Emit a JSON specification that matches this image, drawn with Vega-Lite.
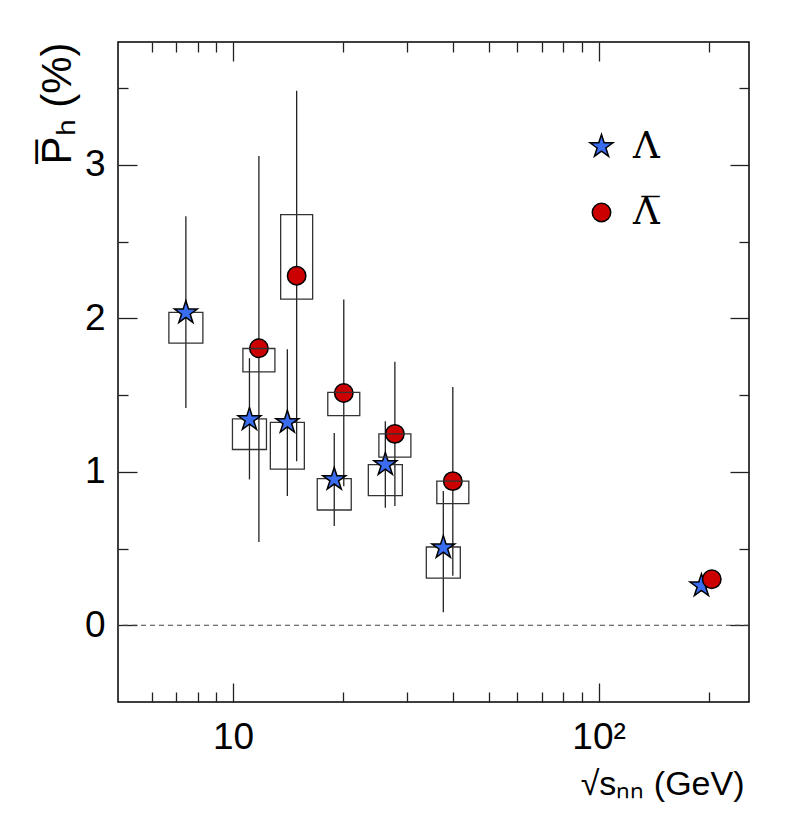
{
  "$schema": "https://vega.github.io/schema/vega-lite/v6.json",
  "width": 631,
  "height": 660,
  "autosize": {"type": "none"},
  "padding": {"left": 118, "top": 42, "right": 39, "bottom": 125},
  "background": "white",
  "data": {
    "values": [
      {"particle": "Λ", "energy": 7.43, "p": 2.036, "stat_lo": 1.416, "stat_hi": 2.664, "sys_lo": 1.838, "sys_hi": 2.039},
      {"particle": "Λ", "energy": 11.09, "p": 1.34, "stat_lo": 0.95, "stat_hi": 1.74, "sys_lo": 1.145, "sys_hi": 1.344},
      {"particle": "Λ", "energy": 14.08, "p": 1.322, "stat_lo": 0.842, "stat_hi": 1.799, "sys_lo": 1.017, "sys_hi": 1.322},
      {"particle": "Λ", "energy": 18.92, "p": 0.95, "stat_lo": 0.647, "stat_hi": 1.253, "sys_lo": 0.751, "sys_hi": 0.955},
      {"particle": "Λ", "energy": 26.1, "p": 1.047, "stat_lo": 0.766, "stat_hi": 1.329, "sys_lo": 0.845, "sys_hi": 1.047},
      {"particle": "Λ", "energy": 37.61, "p": 0.506, "stat_lo": 0.084, "stat_hi": 0.874, "sys_lo": 0.307, "sys_hi": 0.51},
      {"particle": "Λ", "energy": 191.2, "p": 0.257, "stat_lo": 0.22, "stat_hi": 0.3, "sys_lo": null, "sys_hi": null},
      {"particle": "Λ̅", "energy": 11.77, "p": 1.805, "stat_lo": 0.543, "stat_hi": 3.058, "sys_lo": 1.651, "sys_hi": 1.803},
      {"particle": "Λ̅", "energy": 14.93, "p": 2.277, "stat_lo": 1.069, "stat_hi": 3.482, "sys_lo": 2.125, "sys_hi": 2.675},
      {"particle": "Λ̅", "energy": 20.09, "p": 1.513, "stat_lo": 0.906, "stat_hi": 2.123, "sys_lo": 1.366, "sys_hi": 1.517},
      {"particle": "Λ̅", "energy": 27.72, "p": 1.247, "stat_lo": 0.777, "stat_hi": 1.716, "sys_lo": 1.095, "sys_hi": 1.247},
      {"particle": "Λ̅", "energy": 39.93, "p": 0.939, "stat_lo": 0.322, "stat_hi": 1.552, "sys_lo": 0.792, "sys_hi": 0.939},
      {"particle": "Λ̅", "energy": 204.1, "p": 0.3, "stat_lo": 0.26, "stat_hi": 0.34, "sys_lo": null, "sys_hi": null}
    ]
  },
  "resolve": {"axis": {"x": "independent", "y": "independent"}},
  "layer": [
    {
      "data": {"values": [{"ref": 0}]},
      "mark": {"type": "rule", "color": "#444", "strokeWidth": 1, "strokeDash": [5, 4]},
      "encoding": {
        "y": {"field": "ref", "type": "quantitative", "scale": {"domain": [-0.5, 3.8]}, "axis": null}
      }
    },
    {
      "mark": {"type": "rule", "color": "#222", "strokeWidth": 1.3},
      "encoding": {
        "x": {
          "field": "energy",
          "type": "quantitative",
          "scale": {"type": "log", "domain": [5, 250]},
          "axis": {
            "orient": "bottom",
            "values": [6, 7, 8, 9, 10, 20, 30, 40, 50, 60, 70, 80, 90, 100, 200],
            "labelExpr": "datum.value == 10 ? '10' : datum.value == 100 ? '10²' : ''",
            "tickSize": {"condition": {"test": "datum.value == 10 || datum.value == 100", "value": -19}, "value": -10},
            "labelPadding": 36,
            "title": "√sₙₙ (GeV)",
            "titleAnchor": "end",
            "titleAlign": "right",
            "titleX": 626,
            "titleY": 92,
            "titleBaseline": "alphabetic"
          }
        },
        "y": {
          "field": "stat_lo",
          "type": "quantitative",
          "scale": {"domain": [-0.5, 3.8]},
          "axis": {
            "orient": "left",
            "values": [0, 0.5, 1, 1.5, 2, 2.5, 3, 3.5],
            "labelExpr": "datum.value % 1 === 0 ? format(datum.value, 'd') : ''",
            "tickSize": {"condition": {"test": "datum.value % 1 === 0", "value": -19}, "value": -10},
            "labelPadding": 32,
            "title": "P̅ₕ (%)",
            "titleFontSize": 42,
            "titleAngle": -90,
            "titleAlign": "right",
            "titleAnchor": "end",
            "titleX": -48,
            "titleY": 0,
            "titleBaseline": "alphabetic"
          }
        },
        "y2": {"field": "stat_hi"}
      }
    },
    {
      "transform": [{"filter": "datum.particle === 'Λ'"}],
      "mark": {"type": "bar", "size": 34, "fill": "white", "fillOpacity": 0, "stroke": "#333", "strokeWidth": 1.3},
      "encoding": {
        "x": {
          "field": "energy",
          "type": "quantitative",
          "scale": {"type": "log", "domain": [5, 250]},
          "axis": {
            "orient": "top",
            "values": [6, 7, 8, 9, 10, 20, 30, 40, 50, 60, 70, 80, 90, 100, 200],
            "labels": false,
            "tickSize": {"condition": {"test": "datum.value == 10 || datum.value == 100", "value": -19}, "value": -10},
            "title": null
          }
        },
        "y": {
          "field": "sys_lo",
          "type": "quantitative",
          "scale": {"domain": [-0.5, 3.8]},
          "axis": {
            "orient": "right",
            "values": [0, 0.5, 1, 1.5, 2, 2.5, 3, 3.5],
            "labels": false,
            "tickSize": {"condition": {"test": "datum.value % 1 === 0", "value": -19}, "value": -10},
            "title": null
          }
        },
        "y2": {"field": "sys_hi"}
      }
    },
    {
      "mark": {"type": "point", "filled": true, "stroke": "black", "strokeWidth": 1.5, "opacity": 1},
      "encoding": {
        "x": {"field": "energy", "type": "quantitative", "scale": {"type": "log", "domain": [5, 250]}, "axis": null},
        "y": {"field": "p", "type": "quantitative", "scale": {"domain": [-0.5, 3.8]}, "axis": null},
        "shape": {
          "field": "particle",
          "type": "nominal",
          "scale": {
            "domain": ["Λ", "Λ̅"],
            "range": ["M0,-1L0.2245,-0.309L0.9511,-0.309L0.3633,0.118L0.5878,0.809L0,0.382L-0.5878,0.809L-0.3633,0.118L-0.9511,-0.309L-0.2245,-0.309Z", "circle"]
          },
          "legend": {
            "orient": "none",
            "legendX": 465,
            "legendY": 86,
            "title": null,
            "labelFont": "DejaVu Serif",
            "labelFontSize": 37,
            "labelOffset": 13,
            "rowPadding": 28,
            "symbolStrokeColor": "black",
            "symbolStrokeWidth": 1.5
          }
        },
        "fill": {
          "field": "particle",
          "type": "nominal",
          "scale": {"domain": ["Λ", "Λ̅"], "range": ["#3b6df0", "#cc0000"]}
        },
        "size": {
          "field": "particle",
          "type": "nominal",
          "scale": {"domain": ["Λ", "Λ̅"], "range": [576, 340]}
        }
      }
    },
    {
      "transform": [{"filter": "datum.particle !== 'Λ'"}],
      "mark": {"type": "bar", "size": 32, "fill": "white", "fillOpacity": 0, "stroke": "#333", "strokeWidth": 1.3},
      "encoding": {
        "x": {"field": "energy", "type": "quantitative", "scale": {"type": "log", "domain": [5, 250]}, "axis": null},
        "y": {"field": "sys_lo", "type": "quantitative", "scale": {"domain": [-0.5, 3.8]}, "axis": null},
        "y2": {"field": "sys_hi"}
      }
    }
  ],
  "config": {
    "view": {"stroke": "black", "strokeWidth": 1.5},
    "font": "Liberation Sans",
    "axis": {
      "grid": false,
      "domain": false,
      "tickColor": "#222",
      "tickWidth": 1.3,
      "labelFont": "Liberation Sans",
      "labelFontSize": 37,
      "labelColor": "black",
      "labelFlush": false,
      "labelOverlap": false,
      "labelBound": false,
      "titleFont": "Liberation Sans",
      "titleFontSize": 34,
      "titleFontWeight": "normal",
      "titleColor": "black"
    },
    "legend": {"labelColor": "black"}
  }
}
